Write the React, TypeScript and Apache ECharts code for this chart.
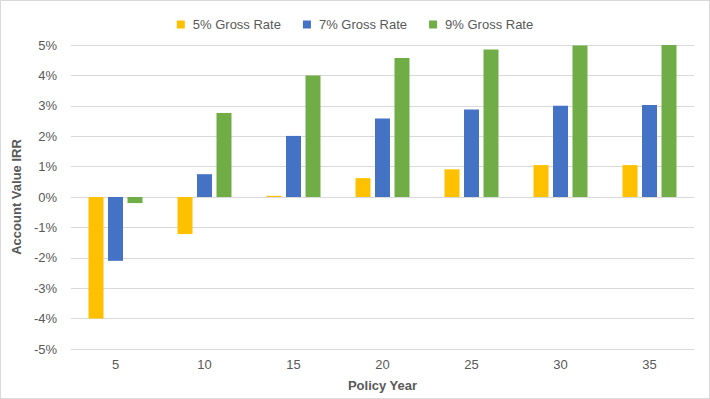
import React, { useEffect, useRef } from "react";
import * as echarts from "echarts";

const categories = ["5", "10", "15", "20", "25", "30", "35"];
const rate5 = [-4.0, -1.22, 0.04, 0.62, 0.91, 1.05, 1.05];
const rate7 = [-2.1, 0.75, 2.01, 2.58, 2.88, 3.0, 3.03];
const rate9 = [-0.2, 2.76, 4.0, 4.57, 4.85, 4.98, 5.0];
const seriesNames = ["5% Gross Rate", "7% Gross Rate", "9% Gross Rate"];
const colors = ["#FFC000", "#4472C4", "#70AD47"];

export default function App() {
  const ref = useRef<HTMLDivElement>(null);
  useEffect(() => {
    if (!ref.current) return;
    const chart = echarts.init(ref.current, null, { renderer: "svg" });
    const font = "'Liberation Sans', Arial, sans-serif";
    const data = [rate5, rate7, rate9];
    chart.setOption({
      animation: false,
      textStyle: { fontFamily: font },
      legend: {
        top: 12,
        left: "center",
        itemWidth: 8,
        itemHeight: 8,
        itemGap: 22,
        icon: "rect",
        textStyle: { fontSize: 13, color: "#595959", fontFamily: font, padding: [0, 0, 0, 3] },
        data: seriesNames,
      },
      grid: { left: 70, right: 15, top: 44, bottom: 49 },
      xAxis: {
        type: "category",
        data: categories,
        axisLine: { show: false },
        axisTick: { show: false },
        axisLabel: { fontSize: 13, color: "#595959", margin: 9 },
        name: "Policy Year",
        nameLocation: "middle",
        nameGap: 30,
        nameTextStyle: { fontSize: 13, fontWeight: "bold", color: "#595959" },
      },
      yAxis: {
        type: "value",
        min: -5,
        max: 5,
        interval: 1,
        axisLabel: {
          fontSize: 13,
          color: "#595959",
          margin: 14,
          formatter: (v: number) => `${v}%`,
        },
        splitLine: { lineStyle: { color: "#d9d9d9", width: 1 } },
        axisLine: { show: false },
        axisTick: { show: false },
        name: "Account Value IRR",
        nameLocation: "middle",
        nameGap: 46,
        nameTextStyle: { fontSize: 13, fontWeight: "bold", color: "#595959" },
      },
      series: seriesNames.map((n, i) => ({
        name: n,
        type: "bar",
        data: data[i],
        barWidth: 15,
        barGap: "30%",
        itemStyle: { color: colors[i] },
      })),
    });
    return () => chart.dispose();
  }, []);
  return (
    <div
      style={{
        position: "absolute",
        left: 0,
        top: 0,
        width: 710,
        height: 399,
        boxSizing: "border-box",
        border: "1px solid #d9d9d9",
        background: "#fff",
      }}
    >
      <div ref={ref} style={{ width: 708, height: 397 }} />
    </div>
  );
}
